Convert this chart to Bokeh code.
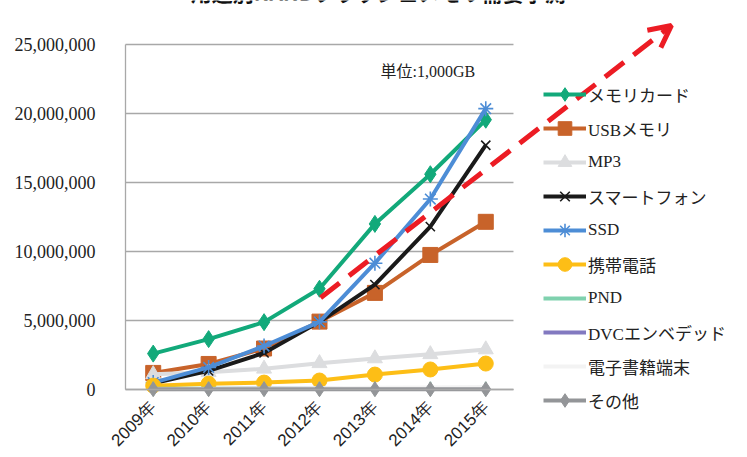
from bokeh.plotting import figure
from bokeh.models import (Range1d, FixedTicker, NumeralTickFormatter, LinearAxis,
                          Legend, LegendItem, Label, Arrow, OpenHead)
from bokeh.embed import file_html
from bokeh.resources import INLINE
import math

years = ["2009年", "2010年", "2011年", "2012年", "2013年", "2014年", "2015年"]

memory_card = [2600000, 3650000, 4880000, 7300000, 12000000, 15600000, 19550000]
usb_memory = [1200000, 1850000, 2970000, 4920000, 7000000, 9750000, 12150000]
mp3 = [1100000, 1250000, 1500000, 1900000, 2250000, 2550000, 2900000]
smartphone = [450000, 1350000, 2650000, 4900000, 7600000, 11800000, 17700000]
ssd = [500000, 1600000, 3150000, 4900000, 9150000, 13800000, 20350000]
keitai = [280000, 420000, 500000, 650000, 1080000, 1450000, 1880000]
pnd = [60000, 60000, 60000, 50000, 50000, 50000, 50000]
dvc = [30000, 40000, 50000, 50000, 60000, 70000, 80000]
ebook = [10000, 30000, 60000, 90000, 120000, 150000, 180000]
sonota = [20000, 20000, 20000, 20000, 20000, 20000, 20000]

y_ticks = [0, 5000000, 10000000, 15000000, 20000000, 25000000]

series = [
    ("メモリカード", memory_card, "#12A97A", "diamond", 17),
    ("USBメモリ", usb_memory, "#C8632A", "square", 15),
    ("MP3", mp3, "#DCDDDF", "triangle", 15),
    ("スマートフォン", smartphone, "#1A1A1A", "x", 13),
    ("SSD", ssd, "#4D8DD6", "asterisk", 15),
    ("携帯電話", keitai, "#FDBE16", "circle", 15),
    ("PND", pnd, "#7FD1AE", "dash", 0),
    ("DVCエンベデッド", dvc, "#8279C0", None, 0),
    ("電子書籍端末", ebook, "#F3F3F3", None, 0),
    ("その他", sonota, "#939598", "diamond", 15),
]

n = len(years)
xpos = [i + 0.5 for i in range(n)]

MIXED = "'Liberation Serif', 'Noto Sans CJK JP'"

# frame covers the whole canvas; axes are pinned at data zero
p = figure(width=747, height=457, x_range=Range1d(-2.255, 11.222),
           y_range=Range1d(-4928000, 28188000), output_backend="svg",
           toolbar_location=None, min_border=0, x_axis_location=None,
           y_axis_location=None)
p.outline_line_color = None
p.background_fill_color = "white"
p.border_fill_color = "white"
p.xgrid.grid_line_color = None
p.ygrid.grid_line_color = None

# horizontal grid lines across the category span
p.segment(x0=[0] * len(y_ticks), x1=[n] * len(y_ticks), y0=y_ticks, y1=y_ticks,
          line_color="#A8A8A8", line_width=1.3)

yaxis = LinearAxis(fixed_location=0, bounds=(0, 25000000),
                   ticker=FixedTicker(ticks=y_ticks),
                   formatter=NumeralTickFormatter(format="0,0"))
yaxis.axis_line_color = "#A8A8A8"
yaxis.axis_line_width = 1.3
yaxis.major_tick_line_color = None
yaxis.minor_tick_line_color = None
yaxis.major_label_text_font = "Liberation Serif"
yaxis.major_label_text_font_size = "18px"
yaxis.major_label_text_color = "#222222"
yaxis.major_label_standoff = 24
p.add_layout(yaxis, "left")

xaxis = LinearAxis(fixed_location=0, bounds=(0, n),
                   ticker=FixedTicker(ticks=xpos),
                   major_label_overrides={x: y for x, y in zip(xpos, years)})
xaxis.axis_line_color = "#A8A8A8"
xaxis.axis_line_width = 1.3
xaxis.major_tick_line_color = None
xaxis.minor_tick_line_color = None
xaxis.major_label_orientation = math.pi / 4
xaxis.major_label_text_font = "Liberation Sans"
xaxis.major_label_text_font_size = "17px"
xaxis.major_label_text_color = "#222222"
xaxis.major_label_standoff = 9
p.add_layout(xaxis, "below")

items = []
for name, vals, color, marker, size in series:
    rs = []
    r = p.line(xpos, vals, line_color=color, line_width=4, line_join="round")
    rs.append(r)
    if marker == "dash":
        m = p.scatter(xpos, vals, marker="dash", angle=math.pi / 2, size=14,
                      line_color=color, line_width=2)
        rs.append(m)
    elif marker in ("x", "asterisk"):
        m = p.scatter(xpos, vals, marker=marker, size=size, line_color=color,
                      line_width=1.6)
        rs.append(m)
    elif marker is not None:
        m = p.scatter(xpos, vals, marker=marker, size=size, fill_color=color,
                      line_color=color)
        rs.append(m)
    items.append(LegendItem(label=name, renderers=rs))

# forecast arrow
arrow = Arrow(x_start=3.52, y_start=6650000, x_end=9.85, y_end=26380000,
              line_color="#EC1C24", line_width=5, line_dash="24 12",
              end=OpenHead(size=22, line_color="#EC1C24", line_width=5))
p.add_layout(arrow)

legend = Legend(items=items, location=(543, 40), orientation="vertical",
                glyph_width=43, glyph_height=34, label_height=20, spacing=0,
                padding=0, margin=0, label_standoff=2,
                label_text_font=MIXED,
                label_text_font_size="17px", label_text_color="#222222",
                background_fill_alpha=0, border_line_color=None)
p.add_layout(legend)

unit = Label(x=4.6, y=23050000, text="単位:1,000GB", text_align="left",
             text_baseline="middle", text_font=MIXED,
             text_font_size="16px", text_color="#222222")
p.add_layout(unit)

title = Label(x=4.56, y=27700000, text="用途別NANDフラッシュメモリ需要予測",
              text_align="center", text_baseline="bottom",
              text_font="Noto Sans CJK JP", text_font_style="bold",
              text_font_size="21px", text_color="#111111")
p.add_layout(title)

open("out.html", "w").write(file_html(p, INLINE))
